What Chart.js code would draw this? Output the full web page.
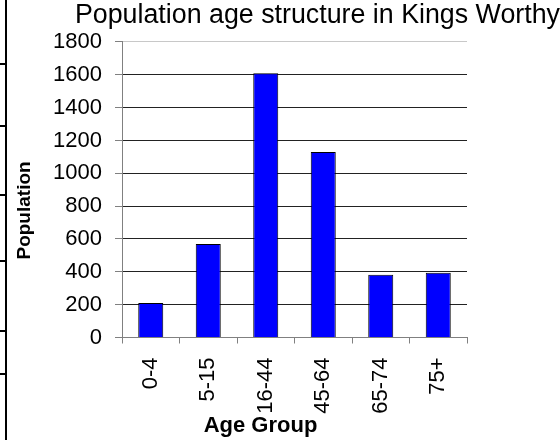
<!DOCTYPE html>
<html>
<head>
<meta charset="utf-8">
<script src="https://cdn.jsdelivr.net/npm/chart.js@4"></script>
<style>
  html, body { margin: 0; padding: 0; background: #fff; }
  #wrap { position: relative; width: 560px; height: 440px; }
  #c { position: absolute; left: 0; top: 0; }
  .edge { position: absolute; background: #000; }
</style>
</head>
<body>
<div id="wrap">
  <canvas id="c" width="560" height="440"></canvas>
  <div class="edge" style="left:5px;top:0;width:2px;height:440px"></div>
  <div class="edge" style="left:0;top:63px;width:6px;height:2px"></div>
  <div class="edge" style="left:0;top:125px;width:6px;height:2px"></div>
  <div class="edge" style="left:0;top:194px;width:6px;height:2px"></div>
  <div class="edge" style="left:0;top:260px;width:6px;height:2px"></div>
  <div class="edge" style="left:0;top:330px;width:6px;height:2px"></div>
  <div class="edge" style="left:0;top:373px;width:6px;height:2px"></div>
</div>
<script>
const categories = ["0-4", "5-15", "16-44", "45-64", "65-74", "75+"];
const population = [210, 570, 1610, 1130, 382, 394];
const yTicks = [0, 200, 400, 600, 800, 1000, 1200, 1400, 1600, 1800];
const chartTitle = "Population age structure in Kings Worthy";
const xTitle = "Age Group";
const yTitle = "Population";

const FONT = '"Liberation Sans", Arial, sans-serif';

const axisTitles = {
  id: 'axisTitles',
  afterDraw(chart) {
    const ctx = chart.ctx;
    const a = chart.chartArea;
    ctx.save();
    ctx.fillStyle = '#000';
    ctx.textAlign = 'center';
    ctx.textBaseline = 'middle';
    ctx.font = 'bold 22px ' + FONT;
    ctx.fillText(xTitle, a.left + 138.5, 426);
    ctx.translate(25, a.top + 168.5);
    ctx.rotate(-Math.PI / 2);
    ctx.font = 'bold 19px ' + FONT;
    ctx.fillText(yTitle, 0, 0);
    ctx.restore();
  }
};

new Chart(document.getElementById('c'), {
  type: 'bar',
  data: {
    labels: categories,
    datasets: [{
      data: population,
      backgroundColor: '#0000ff',
      borderColor: '#000000',
      borderWidth: 1,
      barPercentage: 0.435,
      categoryPercentage: 1.0
    }]
  },
  options: {
    responsive: false,
    animation: false,
    devicePixelRatio: 1,
    layout: { padding: { left: 0, right: 0, top: 0, bottom: 0 } },
    plugins: {
      legend: { display: false },
      tooltip: { enabled: false },
      title: {
        display: true,
        text: chartTitle,
        align: 'end',
        color: '#000',
        font: { family: FONT, size: 26.8, weight: 'normal', lineHeight: 1.2 },
        padding: { top: 0, bottom: 9.8 }
      }
    },
    scales: {
      x: {
        afterFit(scale) { scale.height = 102.5; },
        grid: {
          display: true,
          drawOnChartArea: false,
          drawTicks: true,
          tickLength: 6,
          tickColor: '#808080',
          offset: true
        },
        border: { display: true, color: '#808080', width: 1 },
        ticks: {
          color: '#000',
          font: { family: FONT, size: 22 },
          minRotation: 90,
          maxRotation: 90,
          padding: 14,
          autoSkip: false
        }
      },
      y: {
        min: 0,
        max: 1800,
        afterFit(scale) { scale.width = 122; },
        afterBuildTicks(scale) { scale.ticks = yTicks.map(v => ({ value: v })); },
        grid: {
          color: (c) => (c.tick && c.tick.value === 1800) ? '#c8c8c8' : '#222222',
          lineWidth: 1,
          drawTicks: true,
          tickLength: 7,
          tickColor: '#808080'
        },
        border: { display: true, color: '#808080', width: 1 },
        ticks: {
          color: '#000',
          font: { family: FONT, size: 22 },
          padding: 13,
          callback: (v) => String(v)
        }
      },
      yRight: {
        position: 'right',
        display: true,
        afterFit(scale) { scale.width = 93; },
        grid: { display: false },
        border: { display: false },
        ticks: { display: false }
      }
    }
  },
  plugins: [axisTitles]
});
</script>
</body>
</html>
